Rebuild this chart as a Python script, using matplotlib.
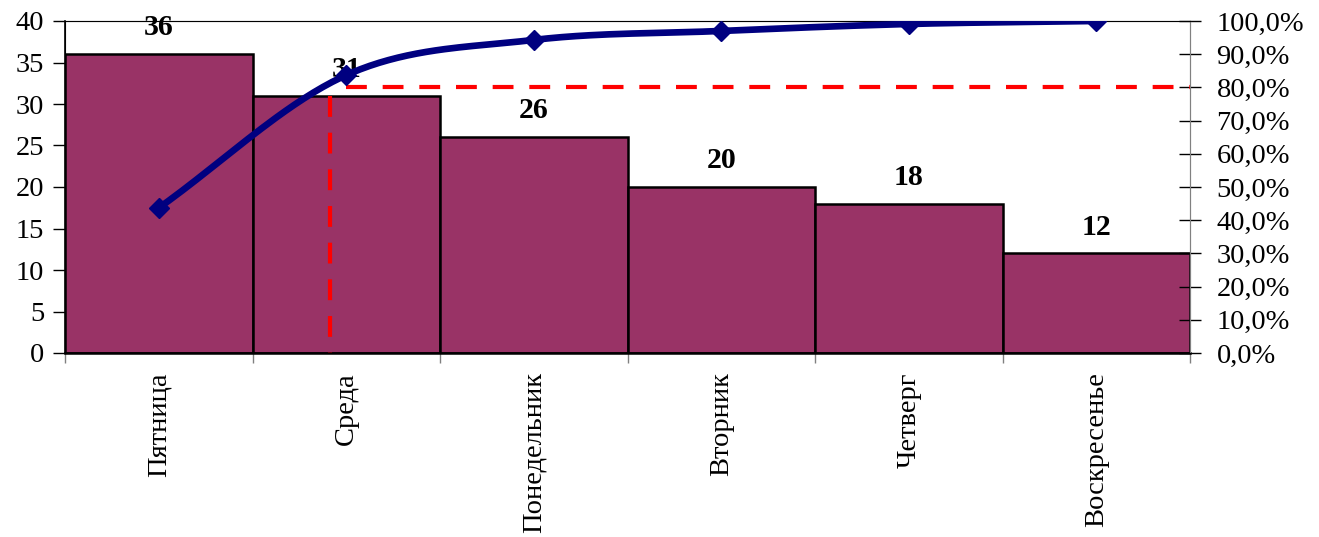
import matplotlib.pyplot as plt
import numpy as np
from matplotlib.ticker import FuncFormatter, MultipleLocator

plt.rcParams["font.family"] = ["Liberation Serif", "DejaVu Serif"]

days = ["Пятница", "Среда", "Понедельник", "Вторник", "Четверг", "Воскресенье"]
counts = [36, 31, 26, 20, 18, 12]
cum_share = [43.7, 83.7, 94.3, 97.0, 99.1, 100.0]
threshold = 80.0
cut_x = 0.913  # where the 80% marker drops to the axis

BAR_COLOR = "#993366"
LINE_COLOR = "#000080"
FS = 20.5


def smooth(xs, ys, steps=40):
    # Catmull-Rom pass through the points, like a spreadsheet "smoothed line"
    xs = np.asarray(xs, float)
    ys = np.asarray(ys, float)
    px = np.concatenate([[2 * xs[0] - xs[1]], xs, [2 * xs[-1] - xs[-2]]])
    py = np.concatenate([[2 * ys[0] - ys[1]], ys, [2 * ys[-1] - ys[-2]]])
    out_x, out_y = [], []
    for i in range(1, len(px) - 2):
        t = np.linspace(0, 1, steps, endpoint=False)
        for arr, out in ((px, out_x), (py, out_y)):
            p0, p1, p2, p3 = arr[i - 1], arr[i], arr[i + 1], arr[i + 2]
            out.extend(
                0.5
                * (
                    2 * p1
                    + (-p0 + p2) * t
                    + (2 * p0 - 5 * p1 + 4 * p2 - p3) * t**2
                    + (-p0 + 3 * p1 - 3 * p2 + p3) * t**3
                )
            )
    out_x.append(xs[-1])
    out_y.append(ys[-1])
    return np.array(out_x), np.array(out_y)


fig = plt.figure(figsize=(13.19, 5.37), dpi=100)
ax = fig.add_axes([65 / 1319, 1 - 353 / 537, 1125 / 1319, 332 / 537])

x = np.arange(len(days))
ax.bar(x, counts, width=1.0, color=BAR_COLOR, edgecolor="black", linewidth=1.8, zorder=2)
for xi, v in zip(x, counts):
    ax.annotate(
        str(v), (xi, v), xytext=(0, 19), textcoords="offset points",
        ha="center", va="center", fontsize=21.5, fontweight="bold", zorder=6,
    )

ax.set_xlim(-0.5, len(days) - 0.5)
ax.set_ylim(0, 40)
ax.yaxis.set_major_locator(MultipleLocator(5))
ax.set_xticks(x)
ax.set_xticklabels(days, rotation=90, fontsize=FS)
ax.set_xticks(np.arange(-0.5, len(days)), minor=True)
ax.tick_params(axis="x", which="major", length=0, pad=14)
ax.tick_params(axis="x", which="minor", length=7, width=1, color="#808080", direction="out")
ax.tick_params(axis="y", labelsize=FS, length=9, width=1, direction="out", pad=6)
for side in ("top", "right"):
    ax.spines[side].set_color("#808080")
ax.spines["left"].set_linewidth(1.2)
ax.spines["bottom"].set_linewidth(1.8)

ax2 = ax.twinx()
ax2.set_ylim(0, 100)
ax2.yaxis.set_major_locator(MultipleLocator(10))
ax2.yaxis.set_major_formatter(FuncFormatter(lambda v, _: f"{v:.1f}%".replace(".", ",")))
ax2.tick_params(axis="y", labelsize=FS, length=16, width=1, direction="inout", pad=11)
ax2.spines["right"].set_color("#808080")

sx, sy = smooth(x, cum_share)
ax2.plot(sx, sy, color=LINE_COLOR, linewidth=4.8, zorder=4, solid_capstyle="round")
ax2.plot(x, cum_share, linestyle="none", marker="D", markersize=10,
         color=LINE_COLOR, zorder=5)

dash = (0, (5, 3.8))
ax2.plot([x[1], len(days) - 0.5], [threshold, threshold], color="red",
         linestyle=dash, linewidth=3, zorder=3)
ax.plot([cut_x, cut_x], [counts[1], 0], color="red",
        linestyle=dash, linewidth=3, zorder=3)

fig.savefig("out.png", dpi=100)
